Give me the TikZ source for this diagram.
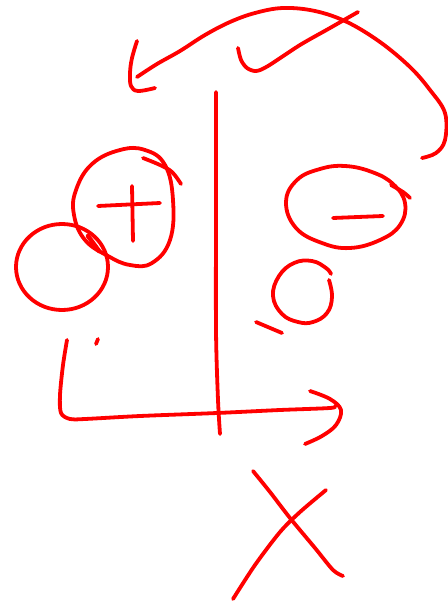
\documentclass[tikz,border=0pt]{standalone}
\begin{document}
\begin{tikzpicture}[x=1pt,y=-1pt,
  ink/.style={draw=red,line width=3.8pt,line cap=round,line join=round}]
\useasboundingbox (0,0) rectangle (447,604);
% big curved arrow
\draw[ink] plot[smooth,tension=0.6] coordinates {(422,158) (436,153) (445,140) (445,113) (430,90) (410,67) (380,42) (347,22) (315,11) (283,8) (255,13) (230,22) (205,35) (180,51) (157,64) (137,77)};
\draw[ink] plot[smooth,tension=0.6] coordinates {(137,41) (132,58) (130,73) (131,86) (138,91) (155,88)};
% tick
\draw[ink] plot[smooth,tension=0.5] coordinates {(238,48) (241,60) (247,68) (256,71) (268,66) (300,45) (330,28) (358,12)};
% vertical line
\draw[ink] plot[smooth] coordinates {(216,92) (216,200) (216,330) (218,400) (220,434)};
% plus circle
\draw[ink] plot[smooth cycle,tension=0.7] coordinates {(76,190) (92,164) (120,150) (145,150) (165,165) (173,200) (170,240) (152,263) (130,265) (108,256) (85,240) (74,215)};
\draw[ink] plot[smooth,tension=0.6] coordinates {(143,158) (160,165) (172,172) (181,184)};
\draw[ink] (98,206) -- (160,203);
\draw[ink] (132,186) -- (133,241);
% left circle
\draw[ink] (62,267) ellipse [x radius=46, y radius=43];
\draw[draw=red,line width=4.5pt,line cap=round] (88,236) -- (99,251);
% small marks
\draw[ink] (98,339) -- (96,344);
% L arrow
\draw[ink] plot[smooth,tension=0.5] coordinates {(67,340) (63,365) (60,395) (61,413) (70,419) (85,419) (140,416) (217,413) (280,410) (330,408) (335,406)};
\draw[ink] plot[smooth,tension=0.6] coordinates {(310,391) (330,399) (341,410) (336,425) (322,436) (305,444)};
% X
\draw[ink] plot[smooth,tension=0.5] coordinates {(253,471) (270,492) (290,518) (315,548) (333,570) (343,576)};
\draw[ink] plot[smooth,tension=0.5] coordinates {(326,490) (300,512) (280,532) (255,565) (233,599)};
% minus ellipse
\draw[ink] plot[smooth cycle,tension=0.7] coordinates {(286,202) (297,180) (320,169) (345,166) (372,172) (393,184) (405,203) (400,225) (380,240) (350,248) (322,243) (296,228)};
\draw[ink] plot[smooth,tension=0.6] coordinates {(391,185) (403,192) (410,198)};
\draw[ink] (333,218) -- (383,216);
% small open circle
\draw[ink] plot[smooth,tension=0.7] coordinates {(329,280) (332,297) (327,313) (313,322) (298,322) (282,314) (273,296) (279,276) (294,263) (312,261) (326,268) (331,274)};
\draw[ink] (256,322) -- (282,333);
\end{tikzpicture}
\end{document}
